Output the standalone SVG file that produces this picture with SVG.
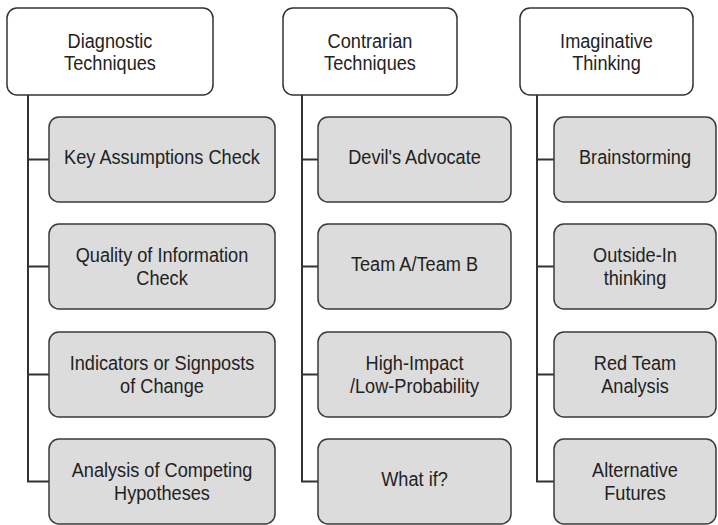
<svg xmlns="http://www.w3.org/2000/svg" width="718" height="525" viewBox="0 0 718 525">
<style>
.hdr{fill:#ffffff;stroke:#333333;stroke-width:1.5}
.box{fill:#dcdcdc;stroke:#3a3a3a;stroke-width:1.5}
.t{font-family:"Liberation Sans",Arial,sans-serif;font-size:21px;fill:#222222;text-anchor:middle}
.c{fill:none;stroke:#333333;stroke-width:2}
</style>
<rect width="718" height="525" fill="#ffffff"/>
<g id="connectors">
<path class="c" d="M28,95 V481.5 H49 M28,159.5 H49 M28,266.5 H49 M28,374.5 H49"/>
<path class="c" d="M302,95 V481.5 H318 M302,159.5 H318 M302,266.5 H318 M302,374.5 H318"/>
<path class="c" d="M537,95 V481.5 H554 M537,159.5 H554 M537,266.5 H554 M537,374.5 H554"/>
</g>
<g id="diagnostic">
<rect class="hdr" x="7" y="8" width="206" height="87" rx="10"/>
<text class="t" transform="translate(110,47.5) scale(0.865,1)">Diagnostic</text>
<text class="t" transform="translate(110,69.5) scale(0.865,1)">Techniques</text>
</g>
<g id="key-assumptions">
<rect class="box" x="49" y="117" width="226" height="85" rx="10"/>
<text class="t" transform="translate(162,164) scale(0.865,1)">Key Assumptions Check</text>
</g>
<g id="quality-info">
<rect class="box" x="49" y="224" width="226" height="85" rx="10"/>
<text class="t" transform="translate(162,262) scale(0.865,1)">Quality of Information</text>
<text class="t" transform="translate(162,285) scale(0.865,1)">Check</text>
</g>
<g id="indicators">
<rect class="box" x="49" y="332" width="226" height="85" rx="10"/>
<text class="t" transform="translate(162,370) scale(0.865,1)">Indicators or Signposts</text>
<text class="t" transform="translate(162,393) scale(0.865,1)">of Change</text>
</g>
<g id="ach">
<rect class="box" x="49" y="439" width="226" height="85" rx="10"/>
<text class="t" transform="translate(162,477) scale(0.865,1)">Analysis of Competing</text>
<text class="t" transform="translate(162,500) scale(0.865,1)">Hypotheses</text>
</g>
<g id="contrarian">
<rect class="hdr" x="283" y="8" width="174" height="87" rx="10"/>
<text class="t" transform="translate(370,47.5) scale(0.865,1)">Contrarian</text>
<text class="t" transform="translate(370,69.5) scale(0.865,1)">Techniques</text>
</g>
<g id="devils-advocate">
<rect class="box" x="318" y="117" width="193" height="85" rx="10"/>
<text class="t" transform="translate(414.5,164) scale(0.865,1)">Devil's Advocate</text>
</g>
<g id="team-a-b">
<rect class="box" x="318" y="224" width="193" height="85" rx="10"/>
<text class="t" transform="translate(414.5,271) scale(0.865,1)">Team A/Team B</text>
</g>
<g id="high-impact">
<rect class="box" x="318" y="332" width="193" height="85" rx="10"/>
<text class="t" transform="translate(414.5,370) scale(0.865,1)">High-Impact</text>
<text class="t" transform="translate(414.5,393) scale(0.865,1)">/Low-Probability</text>
</g>
<g id="what-if">
<rect class="box" x="318" y="439" width="193" height="85" rx="10"/>
<text class="t" transform="translate(414.5,486) scale(0.865,1)">What if?</text>
</g>
<g id="imaginative">
<rect class="hdr" x="520" y="8" width="173" height="87" rx="10"/>
<text class="t" transform="translate(606.5,47.5) scale(0.865,1)">Imaginative</text>
<text class="t" transform="translate(606.5,69.5) scale(0.865,1)">Thinking</text>
</g>
<g id="brainstorming">
<rect class="box" x="554" y="117" width="162" height="85" rx="10"/>
<text class="t" transform="translate(635,164) scale(0.865,1)">Brainstorming</text>
</g>
<g id="outside-in">
<rect class="box" x="554" y="224" width="162" height="85" rx="10"/>
<text class="t" transform="translate(635,262) scale(0.865,1)">Outside-In</text>
<text class="t" transform="translate(635,285) scale(0.865,1)">thinking</text>
</g>
<g id="red-team">
<rect class="box" x="554" y="332" width="162" height="85" rx="10"/>
<text class="t" transform="translate(635,370) scale(0.865,1)">Red Team</text>
<text class="t" transform="translate(635,393) scale(0.865,1)">Analysis</text>
</g>
<g id="alt-futures">
<rect class="box" x="554" y="439" width="162" height="85" rx="10"/>
<text class="t" transform="translate(635,477) scale(0.865,1)">Alternative</text>
<text class="t" transform="translate(635,500) scale(0.865,1)">Futures</text>
</g>
</svg>
